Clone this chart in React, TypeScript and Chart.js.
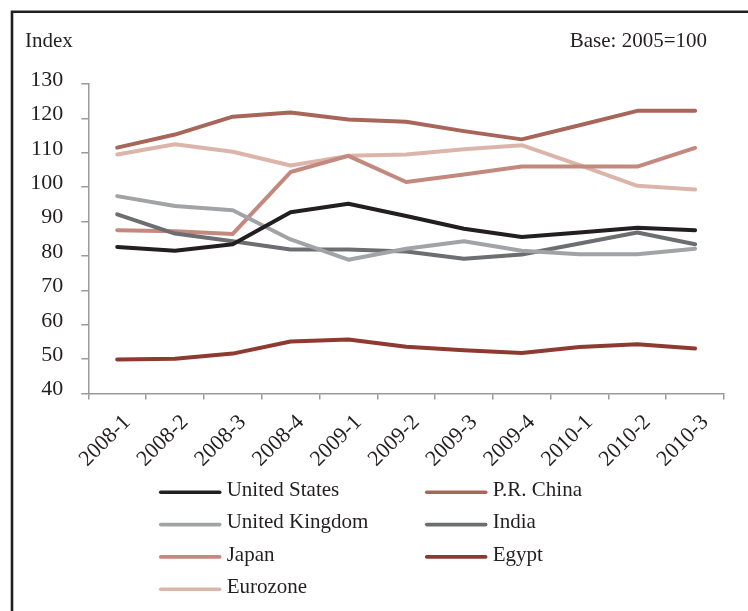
import React, { useEffect, useRef } from "react";
import { Chart, registerables } from "chart.js";

Chart.register(...registerables);

// Quarterly index values, base 2005 = 100
const quarters = [
  "2008-1", "2008-2", "2008-3", "2008-4",
  "2009-1", "2009-2", "2009-3", "2009-4",
  "2010-1", "2010-2", "2010-3",
];

const unitedStates = [82.6, 81.5, 83.4, 92.7, 95.2, 91.6, 87.9, 85.5, 86.8, 88.2, 87.5];
const prChina = [111.5, 115.3, 120.5, 121.7, 119.7, 119.0, 116.3, 113.9, 118.0, 122.2, 122.2];
const unitedKingdom = [97.4, 94.5, 93.3, 84.8, 78.9, 82.1, 84.3, 81.5, 80.5, 80.5, 82.1];
const india = [92.1, 86.5, 84.3, 81.9, 81.9, 81.3, 79.2, 80.4, 83.6, 86.8, 83.4];
const japan = [87.5, 87.2, 86.4, 104.4, 109.1, 101.5, 103.7, 106.0, 106.0, 106.0, 111.4];
const egypt = [49.9, 50.1, 51.6, 55.1, 55.7, 53.6, 52.6, 51.8, 53.5, 54.3, 53.1];
const eurozone = [109.5, 112.5, 110.3, 106.3, 109.1, 109.5, 111.0, 112.2, 106.4, 100.4, 99.3];

// Legend reads row by row: two columns
const seriesNames = [
  "United States", "P.R. China",
  "United Kingdom", "India",
  "Japan", "Egypt",
  "Eurozone",
];
const seriesValues = [unitedStates, prChina, unitedKingdom, india, japan, egypt, eurozone];
const seriesColors = [
  "#231f20", "#a8665a",
  "#a2a3a6", "#6d6e71",
  "#c4897e", "#8e3a31",
  "#dcb5aa",
];

const yMin = 40;
const yMax = 130;
const yStep = 10;

const axisLabel = "Index";
const baseNote = "Base: 2005=100";

const FONT = "'Liberation Serif', 'Times New Roman', Times, serif";
const TEXT = "#231f20";
const AXIS = "#9a9a9a";

// White page with the dark frame along the left and top edges
const framePlugin = {
  id: "frame",
  beforeDraw(chart: any) {
    const { ctx, width, height } = chart;
    ctx.save();
    ctx.fillStyle = "#ffffff";
    ctx.fillRect(0, 0, width, height);
    ctx.strokeStyle = "#231f20";
    ctx.lineWidth = 2.6;
    ctx.beginPath();
    ctx.moveTo(12, height + 5);
    ctx.lineTo(12, 11.8);
    ctx.lineTo(width + 5, 11.8);
    ctx.stroke();
    ctx.restore();
  },
};

// Unit caption at the top left and base note at the top right
const captionPlugin = {
  id: "captions",
  afterDraw(chart: any) {
    const { ctx } = chart;
    ctx.save();
    ctx.fillStyle = TEXT;
    ctx.font = `21px ${FONT}`;
    ctx.textBaseline = "alphabetic";
    ctx.textAlign = "left";
    ctx.fillText(axisLabel, 25, 46.5);
    ctx.textAlign = "right";
    ctx.fillText(baseNote, 707, 46.5);
    ctx.restore();
  },
};

// Two-column legend under the axis
const gridLegendPlugin = {
  id: "gridLegend",
  afterDraw(chart: any) {
    const { ctx } = chart;
    const colX = [160.7, 426.7];
    const firstRowY = 492.3;
    const rowGap = 32.3;
    const swatch = 59;
    const gap = 7;
    ctx.save();
    ctx.font = `21px ${FONT}`;
    ctx.textAlign = "left";
    ctx.textBaseline = "alphabetic";
    chart.data.datasets.forEach((ds: any, i: number) => {
      const col = i % 2;
      const row = Math.floor(i / 2);
      const x = colX[col];
      const y = firstRowY + row * rowGap;
      ctx.strokeStyle = ds.borderColor;
      ctx.lineWidth = 3.6;
      ctx.lineCap = "round";
      ctx.beginPath();
      ctx.moveTo(x, y);
      ctx.lineTo(x + swatch, y);
      ctx.stroke();
      ctx.fillStyle = TEXT;
      ctx.fillText(ds.label, x + swatch + gap, y + 3.6);
    });
    ctx.restore();
  },
};

export default function App() {
  const canvasRef = useRef<HTMLCanvasElement | null>(null);

  useEffect(() => {
    const canvas = canvasRef.current;
    if (!canvas) return;

    const chart = new Chart(canvas, {
      type: "line",
      data: {
        labels: quarters,
        datasets: seriesNames.map((name, i) => ({
          label: name,
          data: seriesValues[i],
          borderColor: seriesColors[i],
          backgroundColor: seriesColors[i],
          borderWidth: 4,
          borderJoinStyle: "round",
          borderCapStyle: "round",
          pointRadius: 0,
          pointHoverRadius: 0,
          tension: 0,
          fill: false,
        })),
      },
      options: {
        responsive: false,
        animation: false,
        devicePixelRatio: 1,
        events: [],
        layout: {
          padding: { top: 84, right: 24, bottom: 137.5, left: 0 },
        },
        plugins: {
          legend: { display: false },
          tooltip: { enabled: false },
          title: { display: false },
        },
        scales: {
          x: {
            type: "category",
            offset: true,
            grid: {
              display: true,
              offset: true,
              drawOnChartArea: false,
              drawTicks: true,
              tickLength: 6,
              color: AXIS,
              lineWidth: 1.5,
            },
            border: { display: true, color: AXIS, width: 1.5 },
            ticks: {
              autoSkip: false,
              minRotation: 45,
              maxRotation: 45,
              padding: 10,
              labelOffset: 10,
              color: TEXT,
              font: { family: FONT, size: 22 },
            },
            afterFit(scale: any) {
              scale.height = 80;
            },
          },
          y: {
            type: "linear",
            min: yMin,
            max: yMax,
            grid: {
              display: true,
              drawOnChartArea: false,
              drawTicks: true,
              tickLength: 7,
              color: AXIS,
              lineWidth: 1.5,
            },
            border: { display: true, color: AXIS, width: 1.5 },
            ticks: {
              stepSize: yStep,
              padding: 18,
              labelOffset: -4,
              color: TEXT,
              font: { family: FONT, size: 22 },
            },
            afterFit(scale: any) {
              scale.width = 88.3;
            },
          },
        },
      },
      plugins: [framePlugin, captionPlugin, gridLegendPlugin],
    } as any);

    return () => chart.destroy();
  }, []);

  return (
    <div style={{ position: "absolute", left: 0, top: 0, width: 748, height: 611, overflow: "hidden" }}>
      <canvas ref={canvasRef} width={748} height={611} style={{ display: "block", width: 748, height: 611 }} />
    </div>
  );
}
